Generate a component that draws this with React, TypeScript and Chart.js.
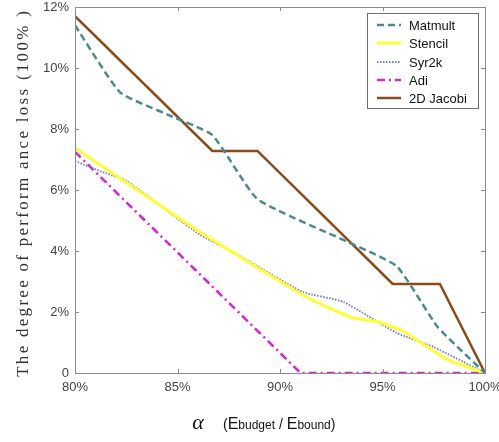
import React, { useEffect, useRef } from "react";
import { Chart, registerables } from "chart.js";

Chart.register(...registerables);

// ---- data (x in %, y in %) ----
const matmultX = [80, 82.2, 84.6, 86.7, 88.9, 93.3, 95.7, 97.7, 100];
const matmultY = [11.4, 9.2, 8.45, 7.8, 5.7, 4.3, 3.5, 1.5, 0];

const stencilX = [80, 86.1, 91.3, 93.4, 94.8, 95.9, 98.2, 100];
const stencilY = [7.38, 4.62, 2.49, 1.84, 1.67, 1.41, 0.43, 0];

const syr2kX = [80, 81.3, 82.5, 86.1, 87.7, 91.1, 93.1, 95.7, 97.5, 100];
const syr2kY = [6.95, 6.6, 6.3, 4.53, 3.97, 2.66, 2.33, 1.31, 0.85, 0];

const adiX = [80, 91, 100];
const adiY = [7.25, 0, 0];

const jacobiX = [80, 86.7, 88.9, 95.5, 97.8, 100];
const jacobiY = [11.7, 7.28, 7.28, 2.92, 2.92, 0];

const seriesNames = ["Matmult", "Stencil", "Syr2k", "Adi", "2D Jacobi"];
const xTicks = [80, 85, 90, 95, 100];
const yTicks = [0, 2, 4, 6, 8, 10, 12];
const yTitle = "The degree of perform ance loss (100% )";

const pts = (xs: number[], ys: number[]) => xs.map((x, i) => ({ x, y: ys[i] }));

const styles = [
  { color: "#4d8a8c", width: 2.5, dash: [7, 4] },
  { color: "#ffff30", width: 3, dash: [] as number[] },
  { color: "#7c7cc8", width: 2, dash: [1.5, 1.5] },
  { color: "#d424d4", width: 2.5, dash: [8, 4, 2, 4] },
  { color: "#8a4a1a", width: 2.5, dash: [] as number[] },
];

const decor = {
  id: "decor",
  afterDraw(chart: any) {
    const ctx = chart.ctx as CanvasRenderingContext2D;
    const a = chart.chartArea;
    const xs = chart.scales.x;
    const ys = chart.scales.y;
    ctx.save();
    // frame
    ctx.strokeStyle = "#8a8a8a";
    ctx.lineWidth = 1;
    ctx.setLineDash([]);
    ctx.strokeRect(Math.round(a.left) + 0.5, Math.round(a.top) + 0.5, Math.round(a.right - a.left), Math.round(a.bottom - a.top));
    // inner ticks
    ctx.beginPath();
    xTicks.forEach((t) => {
      const px = Math.round(xs.getPixelForValue(t)) + 0.5;
      ctx.moveTo(px, a.bottom);
      ctx.lineTo(px, a.bottom - 4);
      ctx.moveTo(px, a.top);
      ctx.lineTo(px, a.top + 4);
    });
    yTicks.forEach((t) => {
      const py = Math.round(ys.getPixelForValue(t)) + 0.5;
      ctx.moveTo(a.left, py);
      ctx.lineTo(a.left + 4, py);
      ctx.moveTo(a.right, py);
      ctx.lineTo(a.right - 4, py);
    });
    ctx.stroke();

    // legend
    const bx = 367, by = 13, bw = 111, bh = 95;
    ctx.fillStyle = "#ffffff";
    ctx.fillRect(bx, by, bw, bh);
    ctx.strokeStyle = "#707070";
    ctx.strokeRect(bx + 0.5, by + 0.5, bw, bh);
    ctx.font = "13px 'Liberation Sans', Arial, sans-serif";
    ctx.textBaseline = "middle";
    ctx.textAlign = "left";
    const rows = [25, 43, 62, 80, 98];
    seriesNames.forEach((name, i) => {
      const s = styles[i];
      ctx.beginPath();
      ctx.strokeStyle = s.color;
      ctx.lineWidth = s.width;
      ctx.setLineDash(s.dash);
      ctx.moveTo(377, rows[i]);
      ctx.lineTo(401, rows[i]);
      ctx.stroke();
      ctx.setLineDash([]);
      ctx.fillStyle = "#111";
      ctx.fillText(name, 409, rows[i] + 1);
    });

    // y title (serif, spaced out)
    ctx.save();
    ctx.translate(24, 194);
    ctx.rotate(-Math.PI / 2);
    ctx.font = "17px 'Liberation Serif', 'Times New Roman', serif";
    const w0 = ctx.measureText(yTitle).width;
    const ls = Math.max(0, (368 - w0) / yTitle.length);
    (ctx as any).letterSpacing = `${ls.toFixed(2)}px`;
    ctx.fillStyle = "#333";
    ctx.textAlign = "center";
    ctx.textBaseline = "middle";
    ctx.fillText(yTitle, ls / 2, 0);
    (ctx as any).letterSpacing = "0px";
    ctx.restore();

    // x title
    ctx.textBaseline = "alphabetic";
    ctx.fillStyle = "#111";
    ctx.font = "italic 22px 'Liberation Serif', 'Times New Roman', serif";
    ctx.textAlign = "center";
    ctx.fillText("\u03b1", 198, 429);
    ctx.textAlign = "left";
    const parts: [string, string][] = [
      ["(", "14px"],
      ["E", "16px"],
      ["budget", "12px"],
      [" / ", "14px"],
      ["E", "16px"],
      ["bound", "12px"],
      [")", "14px"],
    ];
    let cx = 223;
    parts.forEach(([t, sz]) => {
      ctx.font = `${sz} 'Liberation Sans', Arial, sans-serif`;
      ctx.fillText(t, cx, 429);
      cx += ctx.measureText(t).width;
    });
    ctx.restore();
  },
};

export default function App() {
  const ref = useRef<HTMLCanvasElement>(null);
  useEffect(() => {
    if (!ref.current) return;
    const data = [
      pts(matmultX, matmultY),
      pts(stencilX, stencilY),
      pts(syr2kX, syr2kY),
      pts(adiX, adiY),
      pts(jacobiX, jacobiY),
    ];
    const chart = new Chart(ref.current, {
      type: "line",
      data: {
        datasets: seriesNames.map((name, i) => ({
          label: name,
          data: data[i],
          borderColor: styles[i].color,
          borderWidth: styles[i].width,
          borderDash: styles[i].dash,
          pointRadius: 0,
          tension: i === 4 || i === 3 ? 0 : 0.15,
          fill: false,
        })),
      },
      options: {
        animation: false,
        responsive: false,
        maintainAspectRatio: false,
        layout: { padding: { top: 7, right: 14, left: 0, bottom: 0 } },
        plugins: { legend: { display: false }, tooltip: { enabled: false } },
        scales: {
          x: {
            type: "linear",
            min: 80,
            max: 100,
            afterBuildTicks: (s: any) => {
              s.ticks = xTicks.map((v) => ({ value: v }));
            },
            afterFit: (s: any) => {
              s.height = 69;
              s.paddingLeft = 0;
              s.paddingRight = 0;
            },
            grid: { display: false, drawTicks: false },
            border: { display: false },
            ticks: {
              padding: 7,
              color: "#444",
              font: { family: "'Liberation Sans', Arial, sans-serif", size: 13 },
              maxRotation: 0,
              callback: (v: any) => `${v}%`,
            },
          },
          y: {
            type: "linear",
            min: 0,
            max: 12,
            afterBuildTicks: (s: any) => {
              s.ticks = yTicks.map((v) => ({ value: v }));
            },
            afterFit: (s: any) => {
              s.width = 75;
              s.paddingTop = 0;
              s.paddingBottom = 0;
            },
            grid: { display: false, drawTicks: false },
            border: { display: false },
            ticks: {
              padding: 6,
              color: "#444",
              font: { family: "'Liberation Sans', Arial, sans-serif", size: 13 },
              callback: (v: any) => (v === 0 ? "0" : `${v}%`),
            },
          },
        },
      },
      plugins: [decor],
    });
    return () => chart.destroy();
  }, []);
  return (
    <div style={{ position: "fixed", left: 0, top: 0, width: 499, height: 442, background: "#fff" }}>
      <canvas ref={ref} width={499} height={442} style={{ width: 499, height: 442, display: "block" }} />
    </div>
  );
}
